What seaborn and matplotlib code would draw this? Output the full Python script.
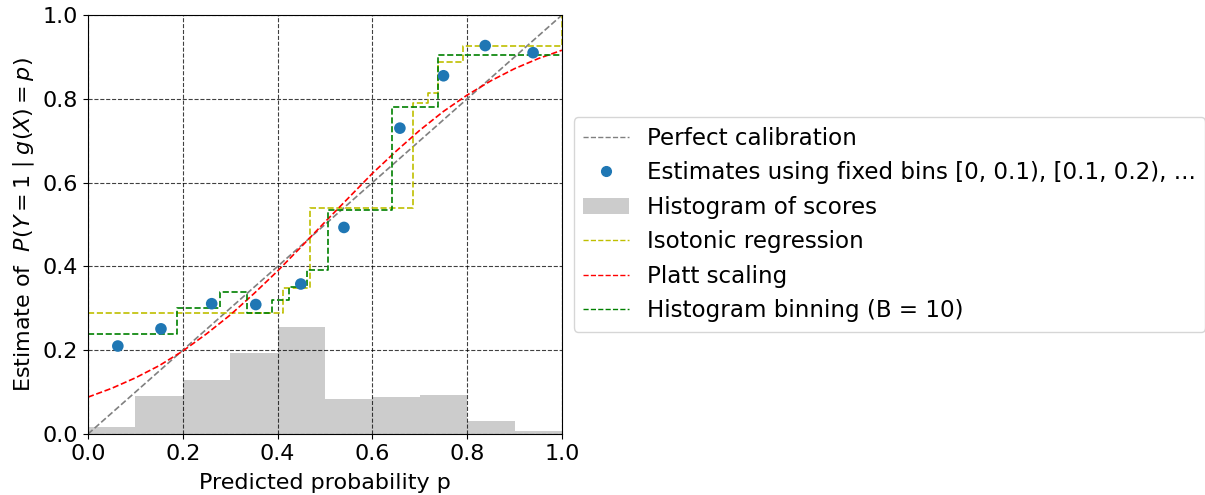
import matplotlib
matplotlib.use("Agg")
import matplotlib.pyplot as plt
from matplotlib.patches import Patch
from matplotlib.lines import Line2D
import numpy as np
import seaborn as sns

plt.rcParams["font.family"] = ["DejaVu Sans"]
plt.rcParams["font.size"] = 16
plt.rcParams["axes.axisbelow"] = "line"

# Fixed-width bin estimates [0, 0.1), [0.1, 0.2), ...
bin_p = [0.063, 0.154, 0.261, 0.354, 0.449, 0.540, 0.658, 0.750, 0.838, 0.939]
bin_est = [0.210, 0.251, 0.311, 0.309, 0.358, 0.493, 0.730, 0.855, 0.927, 0.910]

# Histogram of scores (fraction of samples per 0.1-wide bin)
hist_edges = [0.0, 0.1, 0.2, 0.3, 0.4, 0.5, 0.6, 0.7, 0.8, 0.9, 1.0]
hist_frac = [0.017, 0.091, 0.129, 0.194, 0.256, 0.084, 0.088, 0.093, 0.031, 0.007]

# Isotonic regression step function
iso_x = [0.0, 0.411, 0.468, 0.686, 0.718, 0.739, 0.792, 0.999, 1.0]
iso_y = [0.290, 0.348, 0.540, 0.789, 0.815, 0.889, 0.927, 1.000, 1.000]

# Platt scaling curve
platt_p = [0.00, 0.05, 0.10, 0.15, 0.20, 0.25, 0.30, 0.35, 0.40, 0.45, 0.50,
           0.55, 0.60, 0.65, 0.70, 0.75, 0.80, 0.85, 0.90, 0.95, 1.00]
platt_y = [0.088, 0.109, 0.134, 0.163, 0.198, 0.239, 0.284, 0.335, 0.389, 0.447, 0.506,
           0.564, 0.622, 0.675, 0.725, 0.770, 0.809, 0.843, 0.872, 0.896, 0.916]

# Histogram binning (B = 10), bin edges and per-bin estimates
hb_edges = [0.0, 0.188, 0.278, 0.335, 0.389, 0.425, 0.461, 0.507, 0.642, 0.738, 1.0]
hb_est = [0.238, 0.300, 0.339, 0.288, 0.319, 0.350, 0.391, 0.535, 0.780, 0.905]

fig, ax = plt.subplots(figsize=(12.05, 4.95), dpi=100)
fig.subplots_adjust(left=0.073, right=0.4664, bottom=0.1232, top=0.9697)

centers = [(a + b) / 2 for a, b in zip(hist_edges[:-1], hist_edges[1:])]
sns.histplot(x=centers, weights=hist_frac, bins=hist_edges, stat="count",
             color="#cccccc", alpha=1.0, edgecolor="none", linewidth=0, ax=ax)

lw = 1.2
sns.lineplot(x=[0, 1], y=[0, 1], color="gray", linestyle="--", linewidth=lw,
             estimator=None, ax=ax)
sns.lineplot(x=iso_x, y=iso_y, color="y", linestyle="--", linewidth=lw,
             drawstyle="steps-post", estimator=None, sort=False, ax=ax)
sns.lineplot(x=platt_p, y=platt_y, color="r", linestyle="--", linewidth=lw,
             estimator=None, sort=False, ax=ax)
sns.lineplot(x=hb_edges, y=hb_est + [hb_est[-1]], color="g", linestyle="--",
             linewidth=lw, drawstyle="steps-post", estimator=None, sort=False, ax=ax)
sns.scatterplot(x=bin_p, y=bin_est, color="#1f77b4", s=70, edgecolor="none",
                zorder=3, ax=ax)

ax.grid(True, color="black", linestyle="--", linewidth=0.8, alpha=0.75)
ax.set_xlim(0, 1)
ax.set_ylim(0, 1)
ax.set_xticks(np.arange(0, 1.01, 0.2))
ax.set_yticks(np.arange(0, 1.01, 0.2))
ax.set_xlabel("Predicted probability p", labelpad=7)
ax.set_ylabel(r"Estimate of  $P(Y = 1 \mid g(X) = p)$")

handles = [
    Line2D([], [], color="gray", linestyle="--", linewidth=1.0),
    Line2D([], [], color="#1f77b4", marker="o", linestyle="none", markersize=7),
    Patch(facecolor="#cccccc", edgecolor="none"),
    Line2D([], [], color="y", linestyle="--", linewidth=1.0),
    Line2D([], [], color="r", linestyle="--", linewidth=1.0),
    Line2D([], [], color="g", linestyle="--", linewidth=1.0),
]
labels = [
    "Perfect calibration",
    "Estimates using fixed bins [0, 0.1), [0.1, 0.2), ...",
    "Histogram of scores",
    "Isotonic regression",
    "Platt scaling",
    "Histogram binning (B = 10)",
]
ax.legend(handles, labels, loc="center left", bbox_to_anchor=(1.0, 0.5),
          fontsize=16.6)

fig.savefig("out.png", dpi=100)
